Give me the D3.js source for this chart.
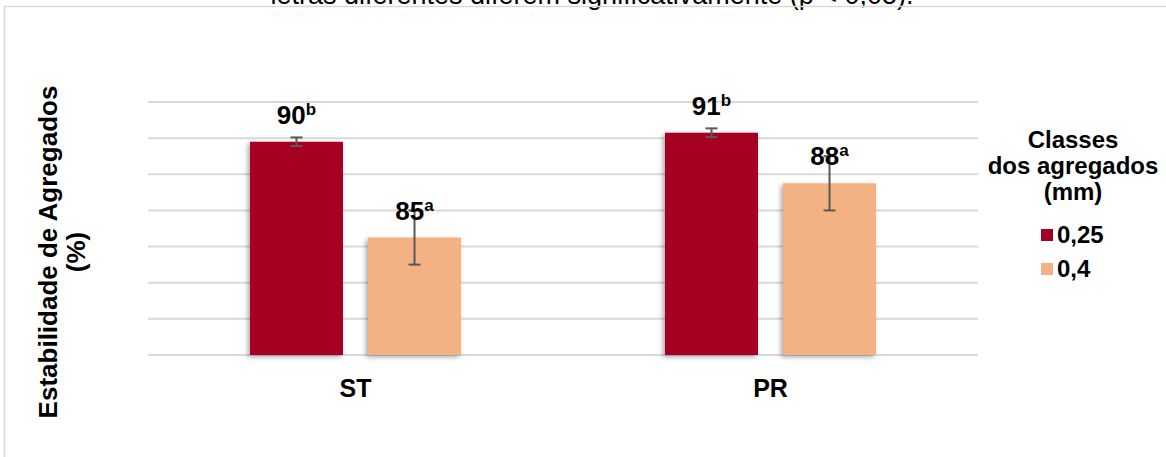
<!DOCTYPE html>
<html>
<head>
<meta charset="utf-8">
<script src="https://cdn.jsdelivr.net/npm/d3@7"></script>
<style>
  body { margin: 0; background: #fff; }
  svg { display: block; font-family: "Liberation Sans", Arial, sans-serif; }
</style>
</head>
<body>
<svg width="1166" height="457"></svg>
<script>
// data
const categories = ["ST", "PR"];
const seriesNames = ["0,25", "0,4"];
const values025 = [89.8, 90.3];
const values04 = [84.5, 87.5];
const errors025 = [0.24, 0.24];
const errors04 = [1.5, 1.5];
const labels025 = ["90", "91"];
const labels04 = ["85", "88"];
const letters025 = ["b", "b"];
const letters04 = ["a", "a"];
const gridTicks = [78, 80, 82, 84, 86, 88, 90, 92];
const colors = ["#A50021", "#F4B183"];

var svg = d3.select("svg");

// shadow for bars
var defs = svg.append("defs");
defs.append("filter")
    .attr("id", "shadow")
    .attr("x", "-20%").attr("y", "-20%")
    .attr("width", "140%").attr("height", "140%")
    .append("feDropShadow")
    .attr("dx", -2).attr("dy", 2)
    .attr("stdDeviation", 2.5)
    .attr("flood-color", "#000")
    .attr("flood-opacity", 0.35);

// caption cut off at the top
svg.append("text")
    .attr("x", 592)
    .attr("y", 4)
    .attr("text-anchor", "middle")
    .attr("font-size", "27px")
    .attr("fill", "#000")
    .text("letras diferentes diferem significativamente (p < 0,05).");

// chart border
svg.append("rect")
    .attr("x", 4.5).attr("y", 6.5)
    .attr("width", 1180).attr("height", 470)
    .attr("fill", "none")
    .attr("stroke", "#d9d9d9")
    .attr("stroke-width", 1.5);

// scales
var x0 = d3.scaleBand().domain(categories).range([148, 978]);
var x1 = d3.scaleBand().domain(seriesNames).range([0, x0.bandwidth()])
    .paddingInner(0.212).paddingOuter(0.864);
var y = d3.scaleLinear().domain([78, 92]).range([355, 102]);

// gridlines
svg.append("g")
    .selectAll("line")
    .data(gridTicks)
    .enter().append("line")
    .attr("x1", 148).attr("x2", 978)
    .attr("y1", d => y(d)).attr("y2", d => y(d))
    .attr("stroke", "#d9d9d9")
    .attr("stroke-width", 2);

var rows = categories.map(function (c, i) {
    return [
        { cat: c, s: seriesNames[0], v: values025[i], e: errors025[i], lab: labels025[i], let: letters025[i], col: colors[0] },
        { cat: c, s: seriesNames[1], v: values04[i], e: errors04[i], lab: labels04[i], let: letters04[i], col: colors[1] }
    ];
}).flat();

var g = svg.append("g");

// bars
g.selectAll(".bar")
    .data(rows)
    .enter().append("rect")
    .attr("class", "bar")
    .attr("x", d => x0(d.cat) + x1(d.s))
    .attr("y", d => y(d.v))
    .attr("width", x1.bandwidth())
    .attr("height", d => y(78) - y(d.v))
    .attr("fill", d => d.col)
    .attr("filter", "url(#shadow)");

// error bars
var eb = g.selectAll(".err")
    .data(rows)
    .enter().append("g")
    .attr("class", "err")
    .attr("stroke", "#595959")
    .attr("stroke-width", 2);
eb.append("line")
    .attr("x1", d => x0(d.cat) + x1(d.s) + x1.bandwidth() / 2)
    .attr("x2", d => x0(d.cat) + x1(d.s) + x1.bandwidth() / 2)
    .attr("y1", d => y(d.v + d.e))
    .attr("y2", d => y(d.v - d.e));
[1, -1].forEach(function (sgn) {
    eb.append("line")
        .attr("x1", d => x0(d.cat) + x1(d.s) + x1.bandwidth() / 2 - 6)
        .attr("x2", d => x0(d.cat) + x1(d.s) + x1.bandwidth() / 2 + 6)
        .attr("y1", d => y(d.v + sgn * d.e))
        .attr("y2", d => y(d.v + sgn * d.e));
});

// data labels
var lab = g.selectAll(".lab")
    .data(rows)
    .enter().append("text")
    .attr("class", "lab")
    .attr("x", d => x0(d.cat) + x1(d.s) + x1.bandwidth() / 2)
    .attr("y", d => y(d.v) - 18)
    .attr("text-anchor", "middle")
    .attr("font-size", "26px")
    .attr("font-weight", "bold")
    .attr("fill", "#000");
lab.append("tspan").text(d => d.lab);
lab.append("tspan")
    .attr("font-size", "17px")
    .attr("dy", -9)
    .text(d => d.let);

// category labels
svg.append("g")
    .selectAll("text")
    .data(categories)
    .enter().append("text")
    .attr("x", d => x0(d) + x0.bandwidth() / 2)
    .attr("y", 397)
    .attr("text-anchor", "middle")
    .attr("font-size", "25px")
    .attr("font-weight", "bold")
    .text(d => d);

// y axis title
var yt = svg.append("text")
    .attr("transform", "translate(57,252) rotate(-90)")
    .attr("text-anchor", "middle")
    .attr("font-size", "26px")
    .attr("font-weight", "bold");
yt.append("tspan").attr("x", 0).attr("y", 0).text("Estabilidade de Agregados");
yt.append("tspan").attr("x", 0).attr("y", 28).text("(%)");

// legend
var lg = svg.append("g").attr("font-weight", "bold").attr("font-size", "24px");
["Classes", "dos agregados", "(mm)"].forEach(function (t, i) {
    lg.append("text")
        .attr("x", 1073)
        .attr("y", 148 + i * 26)
        .attr("text-anchor", "middle")
        .text(t);
});
seriesNames.forEach(function (s, i) {
    lg.append("rect")
        .attr("x", 1041).attr("y", 229 + i * 34)
        .attr("width", 12).attr("height", 12)
        .attr("fill", colors[i]);
    lg.append("text")
        .attr("x", 1057).attr("y", 243 + i * 34)
        .text(s);
});
</script>
</body>
</html>
